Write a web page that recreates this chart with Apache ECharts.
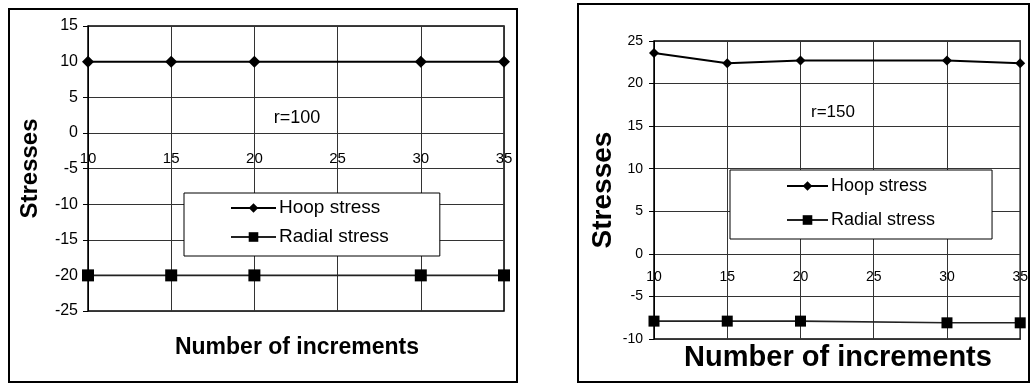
<!DOCTYPE html>
<html>
<head>
<meta charset="utf-8">
<script src="https://cdn.jsdelivr.net/npm/echarts@6/dist/echarts.min.js"></script>
<style>
  html, body { margin: 0; padding: 0; background: #fff; }
  #chart { width: 1031px; height: 384px; }
</style>
</head>
<body>
<div id="chart"></div>
<script>
// number of increments (x) and stresses
const increments = [10, 15, 20, 30, 35]
const hoop100 = [10, 10, 10, 10, 10]
const radial100 = [-20, -20, -20, -20, -20]
const hoop150 = [23.6, 22.4, 22.7, 22.7, 22.4]
const radial150 = [-7.9, -7.9, -7.9, -8.1, -8.1]
const seriesNames = ['Hoop stress', 'Radial stress']

const font = '"Liberation Sans", Arial, sans-serif'
const ink = '#000'
const gridInk = '#333'

const panels = [
  { left: 88, top: 26, width: 416, height: 285, yMin: -25, yMax: 15 },
  { left: 654, top: 41, width: 368, height: 298, yMin: -10, yMax: 25 },
]

function pairs(ys) {
  return increments.map((x, i) => [x, ys[i]])
}

// x labels sit on the zero line, so lift the axis from the bottom edge to y = 0
function zeroOffset(p) {
  return -p.height * (0 - p.yMin) / (p.yMax - p.yMin)
}

function xAxisFor(gridIndex, margin, size) {
  return {
    type: 'value', gridIndex, min: 10, max: 35, interval: 5,
    offset: zeroOffset(panels[gridIndex]),
    axisLine: { show: false, onZero: false },
    axisTick: { show: false },
    axisLabel: { color: ink, fontFamily: font, fontSize: size, margin },
    splitLine: { show: true, lineStyle: { color: gridInk, width: 1 } },
  }
}

function yAxisFor(gridIndex, margin, size, nameSize, nameGap) {
  const p = panels[gridIndex]
  return {
    type: 'value', gridIndex, min: p.yMin, max: p.yMax, interval: 5,
    name: 'Stresses', nameLocation: 'middle', nameGap,
    nameTextStyle: { color: ink, fontFamily: font, fontSize: nameSize, fontWeight: 'bold' },
    axisLine: { show: true, lineStyle: { color: ink, width: 1 } },
    axisTick: { show: true, length: 5, lineStyle: { color: ink } },
    axisLabel: { color: ink, fontFamily: font, fontSize: size, margin },
    splitLine: { show: true, lineStyle: { color: gridInk, width: 1 } },
  }
}

function hoopSeries(idx, data, size) {
  return {
    name: seriesNames[0], type: 'line', xAxisIndex: idx, yAxisIndex: idx,
    data: pairs(data), symbol: 'diamond', symbolSize: [size, size],
    lineStyle: { color: ink, width: 2 }, itemStyle: { color: ink },
    clip: false, animation: false,
  }
}

function radialSeries(idx, data, size) {
  return {
    name: seriesNames[1], type: 'line', xAxisIndex: idx, yAxisIndex: idx,
    data: pairs(data), symbol: 'rect', symbolSize: size,
    lineStyle: { color: '#222', width: 1.6 }, itemStyle: { color: ink },
    clip: false, animation: false,
  }
}

function legendFor(left, top, padding, itemWidth, gap, size) {
  return {
    data: seriesNames, orient: 'vertical', left, top, padding,
    itemWidth, itemHeight: 12, itemGap: gap,
    backgroundColor: '#fff', borderColor: ink, borderWidth: 1,
    selectedMode: false,
    textStyle: { color: ink, fontFamily: font, fontSize: size, lineHeight: 22, padding: [0, 0, 0, -2] },
  }
}

function label(text, x, y, size, bold) {
  return {
    type: 'text', x, y,
    style: {
      text, fill: ink, font: (bold ? 'bold ' : '') + size + 'px ' + font,
      textAlign: 'center', textVerticalAlign: 'middle',
    },
  }
}

const chart = echarts.init(document.getElementById('chart'), null, { renderer: 'canvas' })
chart.setOption({
  animation: false,
  backgroundColor: '#fff',
  grid: panels.map((p) => ({
    left: p.left, top: p.top, width: p.width, height: p.height,
    show: true, borderColor: ink, borderWidth: 1.5,
  })),
  xAxis: [xAxisFor(0, 18, 15), xAxisFor(1, 16, 14)],
  yAxis: [
    yAxisFor(0, 10, 16, 24, 46),
    yAxisFor(1, 11, 14, 28, 37),
  ],
  legend: [
    legendFor(184, 193, [4, 51, 8, 46], 45, 7, 19),
    legendFor(730, 170, [5, 57, 8, 56], 41, 12, 18),
  ],
  series: [
    hoopSeries(0, hoop100, 12),
    radialSeries(0, radial100, 12),
    hoopSeries(1, hoop150, 10),
    radialSeries(1, radial150, 11),
  ],
  graphic: [
    { type: 'rect', shape: { x: 9, y: 9, width: 508, height: 373 }, style: { fill: 'none', stroke: ink, lineWidth: 2 }, silent: true },
    { type: 'rect', shape: { x: 578, y: 4, width: 451, height: 378 }, style: { fill: 'none', stroke: ink, lineWidth: 2 }, silent: true },
    label('r=100', 297, 118, 18, false),
    label('r=150', 833, 112, 17, false),
    label('Number of increments', 297, 348, 23, true),
    label('Number of increments', 838, 358, 29, true),
  ],
})
</script>
</body>
</html>
